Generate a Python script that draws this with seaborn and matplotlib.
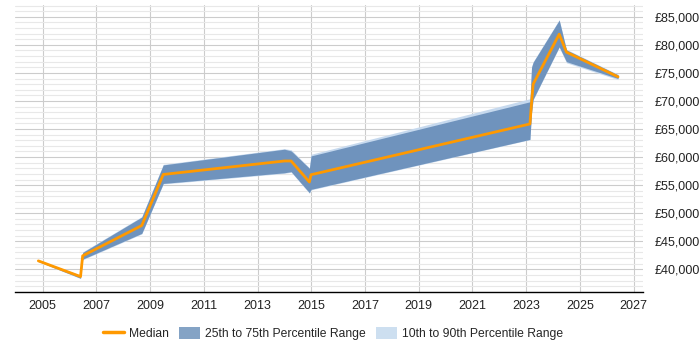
import numpy as np
import pandas as pd
import matplotlib
matplotlib.use("Agg")
import matplotlib.pyplot as plt
import matplotlib.ticker as mticker
from matplotlib.patches import Patch
from matplotlib.lines import Line2D
import seaborn as sns

# 数据
years = [2004.84, 2006.41, 2006.49, 2008.69, 2009.49, 2014.0, 2014.25,
         2014.93, 2014.99, 2023.14, 2023.2, 2023.26, 2024.23, 2024.5, 2026.42]
median = [41500, 38700, 42400, 47800, 56900, 59300, 59300,
          55550, 56850, 65900, 69600, 73000, 81900, 78700, 74300]
p25 = [41400, 38400, 41800, 46400, 55300, 57200, 57400,
       53640, 54250, 63150, 68000, 70300, 79650, 77000, 74000]
p75 = [41600, 38900, 43000, 49300, 58600, 61400, 61100,
       58000, 60200, 69850, 76000, 76900, 84400, 79100, 74650]
p10 = [41350, 38350, 41700, 46300, 55200, 57100, 57300,
       53550, 54150, 63100, 67900, 70200, 79550, 76800, 73800]
p90 = [41650, 38950, 43100, 49400, 58700, 61500, 61300,
       58100, 60500, 70400, 76100, 77000, 84500, 79200, 74750]

df = pd.DataFrame({"year": years, "median": median})

sns.set_style("white")
plt.rcParams["font.family"] = ["Liberation Sans", "DejaVu Sans"]

fig = plt.figure(figsize=(7, 3.5), dpi=100)
ax = fig.add_axes([0.0214, 0.1657, 0.8972, 0.82])

dark = "#6f93bd"
light = "#c6d9ee"
orange = "#ff9900"

# 分位数区间
ax.fill_between(years, p10, p90, color=light, lw=0, zorder=2)
ax.fill_between(years, p25, p75, color=dark, lw=0, zorder=3)
# 中位数
sns.lineplot(data=df, x="year", y="median", color=orange, lw=2, ax=ax,
             zorder=4, sort=False)

ax.set_xlim(2003.97, 2027.35)
ax.set_ylim(35950, 87100)
ax.set_xticks(range(2005, 2028, 2))
ax.yaxis.set_major_locator(mticker.MultipleLocator(5000))
ax.yaxis.set_minor_locator(mticker.MultipleLocator(1000))
ax.yaxis.set_major_formatter(mticker.FuncFormatter(lambda v, p: f"£{int(v):,}"))
ax.yaxis.tick_right()
ax.set_xlabel("")
ax.set_ylabel("")

ax.grid(True, which="major", axis="both", color="#cccccc", lw=0.8, zorder=0)
ax.grid(True, which="minor", axis="y", color="#e8e8e8", lw=0.8, zorder=0)
ax.set_axisbelow(True)
for s in ["left", "right", "top"]:
    ax.spines[s].set_visible(False)
ax.spines["bottom"].set_color("black")
ax.spines["bottom"].set_linewidth(1)
ax.tick_params(axis="both", which="both", length=0, labelsize=9, colors="#222222")
ax.tick_params(axis="x", pad=6)
ax.tick_params(axis="y", pad=8)

# 图例
handles = [Line2D([0], [0], color=orange, lw=2.5),
           Patch(facecolor="#84a3c5", edgecolor="none"),
           Patch(facecolor="#cddff0", edgecolor="none")]
labels = ["Median", "25th to 75th Percentile Range", "10th to 90th Percentile Range"]
fig.legend(handles, labels, loc="center", bbox_to_anchor=(0.476, 0.046), ncol=3,
           frameon=False, fontsize=8.7, handlelength=1.7, handleheight=1.1,
           columnspacing=0.85, handletextpad=0.45)

fig.savefig("out.png", dpi=100)
